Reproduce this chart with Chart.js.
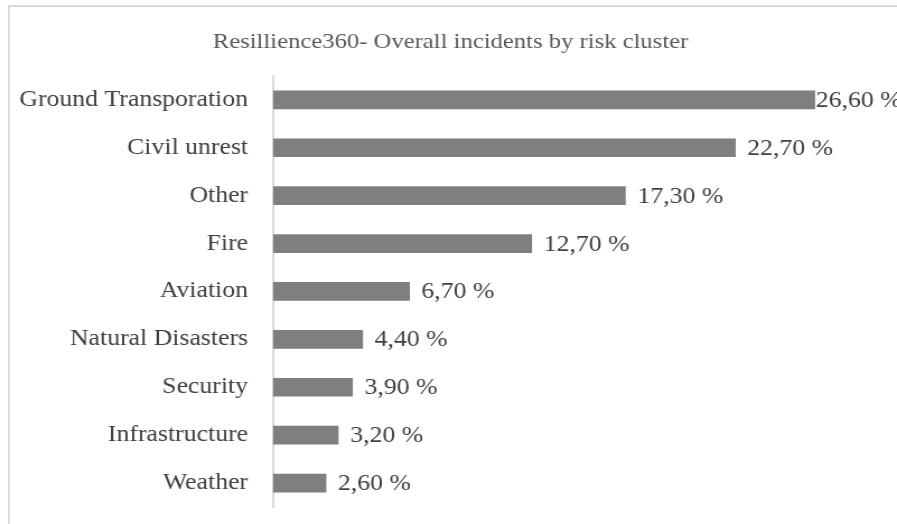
<!DOCTYPE html>
<html>
<head>
<meta charset="utf-8">
<script src="https://cdn.jsdelivr.net/npm/chart.js@4/dist/chart.umd.min.js"></script>
<style>
  html, body { margin: 0; padding: 0; background: #fff; overflow: hidden; }
  #frame {
    position: absolute; left: 8px; top: 5px;
    width: 900px; height: 530px;
    border-top: 2px solid #d9d9d9;
    border-left: 2px solid #d9d9d9;
  }
  /* the chart is laid out 801px wide and stretched to fill 897px */
  #wrap {
    position: absolute; left: 0; top: 0;
    width: 801px; height: 524px;
    transform: scaleX(1.11985);
    transform-origin: 0 0;
  }
</style>
</head>
<body>
<div id="frame"></div>
<div id="wrap"><canvas id="riskChart"></canvas></div>
<script>
// incidents by risk cluster, in %
const clusters = [
  'Ground Transporation', 'Civil unrest', 'Other', 'Fire', 'Aviation',
  'Natural Disasters', 'Security', 'Infrastructure', 'Weather'
];
const shares = [26.6, 22.7, 17.3, 12.7, 6.7, 4.4, 3.9, 3.2, 2.6];

const SERIF = "'Liberation Serif', 'Times New Roman', serif";
const TEXT = '#3f3f3f';

function fmtPct(v) {
  // 26.6 -> "26,60 %"
  return v.toFixed(2).replace('.', ',') + ' %';
}

// value labels to the right of each bar, pulled in when they'd run off the edge
const valueLabels = {
  id: 'valueLabels',
  afterDatasetsDraw(chart) {
    const { ctx } = chart;
    const meta = chart.getDatasetMeta(0);
    ctx.save();
    ctx.font = '23px ' + SERIF;
    ctx.fillStyle = TEXT;
    ctx.textBaseline = 'middle';
    ctx.textAlign = 'left';
    meta.data.forEach((bar, i) => {
      const txt = fmtPct(shares[i]);
      const w = ctx.measureText(txt).width;
      const x = Math.min(bar.x + 10.7, Math.max(bar.x + 1, chart.width - w));
      ctx.fillText(txt, x, bar.y + 1);
    });
    ctx.restore();
  }
};

new Chart(document.getElementById('riskChart'), {
  type: 'bar',
  data: {
    labels: clusters,
    datasets: [{
      data: shares,
      backgroundColor: '#7f7f7f',
      borderWidth: 0,
      barThickness: 18,
      categoryPercentage: 1
    }]
  },
  options: {
    indexAxis: 'y',
    responsive: true,
    maintainAspectRatio: false,
    animation: false,
    devicePixelRatio: 1,
    layout: { padding: { top: 0, right: 11.6, bottom: 17, left: 15.2 } },
    plugins: {
      legend: { display: false },
      tooltip: { enabled: false },
      title: {
        display: true,
        text: 'Resillience360- Overall incidents by risk cluster',
        color: '#595959',
        font: { family: SERIF, size: 22, weight: 'normal' },
        padding: { top: 29, bottom: 20.5 }
      }
    },
    scales: {
      x: { display: false, min: 0, max: 30 },
      y: {
        grid: { display: false, drawTicks: true, tickLength: 22.3 },
        border: { display: true, color: '#d9d9d9', width: 1.9 },
        ticks: {
          color: TEXT,
          padding: 0,
          font: { family: SERIF, size: 23 }
        },
        afterFit(scale) { scale.width = 228.6; }
      }
    }
  },
  plugins: [valueLabels]
});
</script>
</body>
</html>
